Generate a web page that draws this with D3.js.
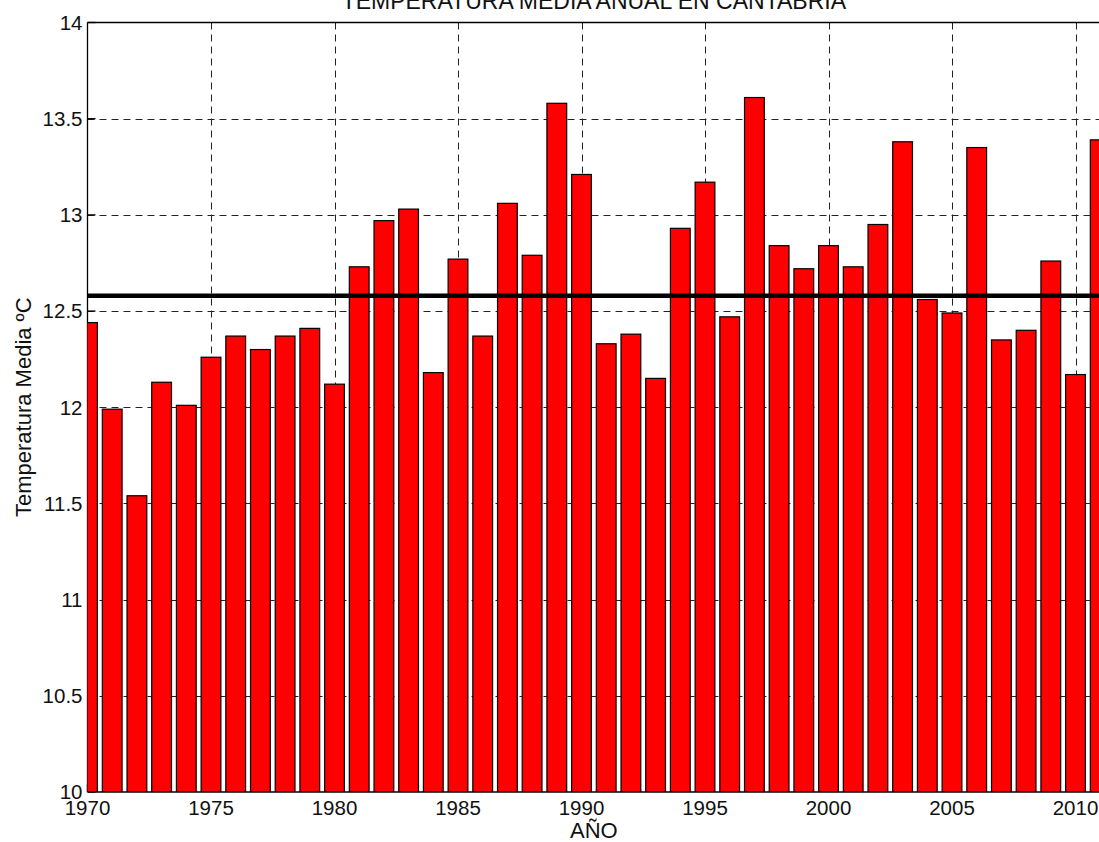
<!DOCTYPE html>
<html>
<head>
<meta charset="utf-8">
<script src="https://cdn.jsdelivr.net/npm/d3@7"></script>
<style>
    html, body { margin: 0; padding: 0; background: #fff; }
    svg { display: block; }
</style>
</head>
<body>
<svg width="1099" height="842"></svg>
<script>
// annual mean temperature, Cantabria
const years = d3.range(1970, 2012);
const temps = [
    12.44, 11.99, 11.54, 12.13, 12.01, 12.26, 12.37, 12.30, 12.37, 12.41,
    12.12, 12.73, 12.97, 13.03, 12.18, 12.77, 12.37, 13.06, 12.79, 13.58,
    13.21, 12.33, 12.38, 12.15, 12.93, 13.17, 12.47, 13.61, 12.84, 12.72,
    12.84, 12.73, 12.95, 13.38, 12.56, 12.49, 13.35, 12.35, 12.40, 12.76,
    12.17, 13.39
];
const meanTemp = 12.58;
const xTicks = d3.range(1970, 2011, 5);
const yTicks = d3.range(10, 14.01, 0.5);

const title = "TEMPERATURA MEDIA ANUAL EN CANTABRIA";
const xLabel = "AÑO";
const yLabel = "Temperatura Media ºC";

// plot box in pixels ("top" is taken by window.top)
const plotLeft = 87.5,
      plotRight = 1100.2,
      plotTop = 22.5,
      plotBottom = 792;

const x = d3.scaleLinear().domain([1970, 2011]).range([plotLeft, plotRight]);
const y = d3.scaleLinear().domain([10, 14]).range([plotBottom, plotTop]);
const barW = (x(1971) - x(1970)) * 0.8;

const svg = d3.select("svg")
    .style("font-family", "'Liberation Sans', Arial, sans-serif");

svg.append("defs").append("clipPath")
    .attr("id", "plot-clip")
    .append("rect")
    .attr("x", plotLeft)
    .attr("y", plotTop)
    .attr("width", plotRight - plotLeft)
    .attr("height", plotBottom - plotTop);

// grid (behind the bars, like matlab's default layer)
const grid = svg.append("g")
    .attr("stroke", "#222")
    .attr("stroke-width", 1)
    .attr("stroke-dasharray", "7,5");

grid.selectAll("line.vx")
    .data(xTicks.filter(d => d > 1970))
    .join("line")
    .attr("class", "vx")
    .attr("x1", d => Math.round(x(d)) + 0.5)
    .attr("x2", d => Math.round(x(d)) + 0.5)
    .attr("y1", plotTop)
    .attr("y2", plotBottom);

grid.selectAll("line.hy")
    .data(yTicks.filter(d => d > 10 && d < 14))
    .join("line")
    .attr("class", "hy")
    .attr("x1", plotLeft)
    .attr("x2", plotRight)
    .attr("y1", d => Math.round(y(d)) + 0.5)
    .attr("y2", d => Math.round(y(d)) + 0.5);

// axes box
const box = svg.append("g")
    .attr("stroke", "#000")
    .attr("stroke-width", 1.3)
    .attr("fill", "none");

box.append("line").attr("x1", plotLeft).attr("x2", plotRight).attr("y1", plotTop).attr("y2", plotTop);
box.append("line").attr("x1", plotLeft).attr("x2", plotRight).attr("y1", plotBottom).attr("y2", plotBottom);
box.append("line").attr("x1", plotLeft).attr("x2", plotLeft).attr("y1", plotTop).attr("y2", plotBottom);

// inward ticks
box.selectAll("line.ty")
    .data(yTicks)
    .join("line")
    .attr("class", "ty")
    .attr("x1", plotLeft)
    .attr("x2", plotLeft + 8)
    .attr("y1", d => y(d))
    .attr("y2", d => y(d));

box.selectAll("line.tx")
    .data(xTicks)
    .join("line")
    .attr("class", "tx")
    .attr("x1", d => x(d))
    .attr("x2", d => x(d))
    .attr("y1", plotBottom)
    .attr("y2", plotBottom - 8);

// bars
svg.append("g")
    .attr("clip-path", "url(#plot-clip)")
    .selectAll("rect")
    .data(years)
    .join("rect")
    .attr("x", d => x(d) - barW / 2)
    .attr("width", barW)
    .attr("y", (d, i) => y(temps[i]))
    .attr("height", (d, i) => y(10) - y(temps[i]))
    .attr("fill", "#ff0000")
    .attr("stroke", "#000")
    .attr("stroke-width", 1.2);

// mean line
svg.append("line")
    .attr("x1", plotLeft)
    .attr("x2", plotRight)
    .attr("y1", y(meanTemp))
    .attr("y2", y(meanTemp))
    .attr("stroke", "#000")
    .attr("stroke-width", 4.5);

// tick labels
svg.append("g")
    .selectAll("text")
    .data(yTicks)
    .join("text")
    .attr("x", plotLeft - 5)
    .attr("y", d => y(d))
    .attr("dy", "0.36em")
    .attr("text-anchor", "end")
    .attr("font-size", 20.5)
    .attr("fill", "#111")
    .text(d => d3.format("~g")(d));

svg.append("g")
    .selectAll("text")
    .data(xTicks)
    .join("text")
    .attr("x", d => x(d))
    .attr("y", plotBottom + 23)
    .attr("text-anchor", "middle")
    .attr("font-size", 20.5)
    .attr("fill", "#111")
    .text(d => d);

// labels
svg.append("text")
    .attr("x", (plotLeft + plotRight) / 2)
    .attr("y", 9)
    .attr("text-anchor", "middle")
    .attr("font-size", 23)
    .attr("fill", "#111")
    .text(title);

svg.append("text")
    .attr("x", (plotLeft + plotRight) / 2)
    .attr("y", 838)
    .attr("text-anchor", "middle")
    .attr("font-size", 22)
    .attr("fill", "#111")
    .text(xLabel);

svg.append("text")
    .attr("transform", `translate(31,${(plotTop + plotBottom) / 2}) rotate(-90)`)
    .attr("text-anchor", "middle")
    .attr("font-size", 22)
    .attr("fill", "#111")
    .text(yLabel);
</script>
</body>
</html>
